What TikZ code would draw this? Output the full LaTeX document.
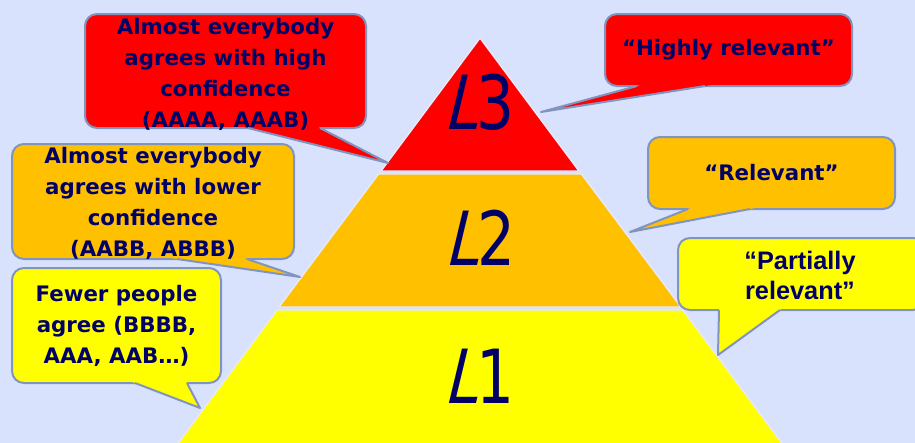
\documentclass[tikz,border=0pt]{standalone}
\usepackage{fontspec}
\setmainfont{DejaVu Sans}
\newfontfamily\arialfont{Liberation Sans}
\newfontfamily\slfont{DejaVu Sans}[FakeSlant=0.3]
\usetikzlibrary{calc}
\definecolor{bgcol}{RGB}{217,226,252}
\definecolor{navy}{RGB}{0,0,102}
\definecolor{bordercol}{RGB}{128,148,190}
\definecolor{lvred}{RGB}{255,0,0}
\definecolor{lvorange}{RGB}{255,192,0}
\definecolor{lvyellow}{RGB}{255,255,0}
\definecolor{sepcol}{RGB}{232,232,248}
\tikzset{
  callout/.style={draw=bordercol, line width=1.5pt, rounded corners=9pt, inner sep=0pt},
  calltext/.style={inner sep=0pt, align=center, text=navy, font=\fontsize{16}{23.25}\selectfont\bfseries},
  tailside/.style={draw=bordercol, line width=1.5pt, line join=round},
  level/.style={draw=sepcol, line width=1.1pt},
  lvlabel/.style={text=navy, font=\fontsize{56}{60}\selectfont, xscale=0.8, inner sep=0pt}
}
\begin{document}
\begin{tikzpicture}[x=0.75pt,y=-0.75pt]
\useasboundingbox (0,0) rectangle (915,443);
\fill[bgcol] (0,0) rectangle (915,443);
% pyramid
\fill[lvyellow,level] (277,310) -- (683,310) -- (787,450) -- (173,450) -- cycle;
\fill[lvorange,level] (378.5,174) -- (581.5,174) -- (681,307) -- (279,307) -- cycle;
\fill[lvred,level] (480,38) -- (579,171) -- (381,171) -- cycle;
\node[lvlabel] (l3) at (479,102) {{\slfont L}3};
\node[lvlabel] (l2) at (480,238) {{\slfont L}2};
\node[lvlabel] (l1) at (479,376) {{\slfont L}1};
% tail points
\coordinate (t1) at (388,163); \coordinate (b1l) at (248,128); \coordinate (b1r) at (320,128);
\coordinate (t2) at (300,277); \coordinate (b2l) at (177,259); \coordinate (b2r) at (247,259);
\coordinate (t3) at (200,408); \coordinate (b3l) at (135,383); \coordinate (b3r) at (187,383);
\coordinate (t4) at (541,112); \coordinate (b4l) at (637,86);  \coordinate (b4r) at (705,86);
\coordinate (t5) at (630,232); \coordinate (b5l) at (688,209); \coordinate (b5r) at (750,209);
\coordinate (t6) at (718,355); \coordinate (b6l) at (719,310); \coordinate (b6r) at (780,310);
% callout boxes
\node[callout, fill=lvred, minimum width=210.75pt, minimum height=85.5pt] (c1) at (225.5,71) {};
\node[callout, fill=lvorange, minimum width=211.5pt, minimum height=86.25pt] (c2) at (153,201.5) {};
\node[callout, fill=lvyellow, minimum width=156.75pt, minimum height=86.25pt] (c3) at (116.5,325.5) {};
\node[callout, fill=lvred, minimum width=185.25pt, minimum height=54pt] (c4) at (728.5,50) {};
\node[callout, fill=lvorange, minimum width=185.25pt, minimum height=54pt] (c5) at (771.5,173) {};
\node[callout, fill=lvyellow, minimum width=185.25pt, minimum height=54pt] (c6) at (801.5,274) {};
% tails
\foreach \i/\col in {1/lvred,2/lvorange,3/lvyellow,4/lvred,5/lvorange,6/lvyellow}{
  \fill[\col] (t\i) -- ($(t\i)!1.15!(b\i l)$) -- ($(t\i)!1.15!(b\i r)$) -- cycle;
  \draw[tailside] (b\i l) -- (t\i) -- (b\i r);
}
% callout texts
\node[calltext] (x1) at (225.5,74) {Almost everybody\\agrees with high\\confidence\\(AAAA, AAAB)};
\node[calltext] (x2) at (153,203) {Almost everybody\\agrees with lower\\confidence\\(AABB, ABBB)};
\node[calltext] (x3) at (116.5,326) {Fewer people\\agree (BBBB,\\AAA, AAB…)};
\node[calltext] (x4) at (728.5,50) {“Highly relevant”};
\node[calltext] (x5) at (771.5,173) {“Relevant”};
\node[calltext, font=\fontsize{19}{22.5}\selectfont\arialfont\bfseries] (x6) at (800,275) {“Partially\\relevant”};
\end{tikzpicture}
\end{document}
